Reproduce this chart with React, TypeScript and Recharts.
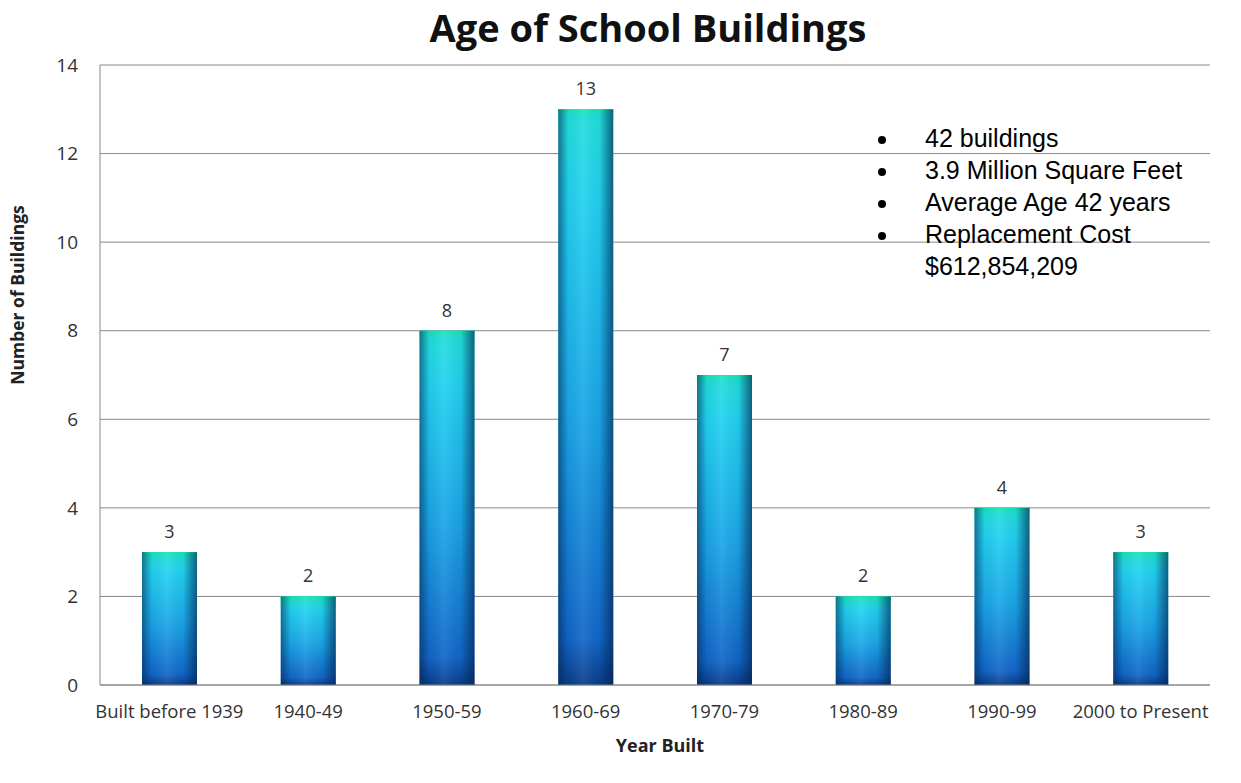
import React from "react";
import { BarChart, Bar, XAxis, YAxis, CartesianGrid, LabelList } from "recharts";

const categories = ["Built before 1939", "1940-49", "1950-59", "1960-69", "1970-79", "1980-89", "1990-99", "2000 to Present"];
const buildings = [3, 2, 8, 13, 7, 2, 4, 3];
const yTicks = [0, 2, 4, 6, 8, 10, 12, 14];
const notes = ["42 buildings", "3.9 Million Square Feet", "Average Age 42 years", "Replacement Cost"];
const noteExtra = "$612,854,209";

const data = categories.map((c, i) => ({ name: c, value: buildings[i] }));

const FONT = "'Open Sans', Lato, sans-serif";

const CylBar = (props: any) => {
  const { x, y, width, height } = props;
  if (height <= 0) return null;
  const cap = Math.min(12, height);
  return (
    <g>
      <rect x={x} y={y} width={width} height={height} fill="url(#vgrad)" />
      <rect x={x} y={y} width={width} height={cap} fill="url(#capgrad)" />
      <rect x={x} y={y} width={width} height={height} fill="url(#hgrad)" />
    </g>
  );
};

export default function App() {
  return (
    <div style={{ position: "absolute", left: 0, top: 0, width: 1241, height: 783, background: "#fff" }}>
      <BarChart
        width={1241}
        height={783}
        data={data}
        margin={{ top: 65, right: 31, bottom: 68, left: 40 }}
        barCategoryGap={0}
      >
        <defs>
          <linearGradient id="vgrad" x1="0" y1="0" x2="0" y2="1">
            <stop offset="0%" stopColor="#22e0d8" />
            <stop offset="15%" stopColor="#22d2f0" />
            <stop offset="55%" stopColor="#1aa4e6" />
            <stop offset="92%" stopColor="#1266c8" />
            <stop offset="100%" stopColor="#0a3c88" />
          </linearGradient>
          <linearGradient id="capgrad" x1="0" y1="0" x2="0" y2="1">
            <stop offset="0%" stopColor="#14e6b4" stopOpacity={1} />
            <stop offset="100%" stopColor="#22d8e0" stopOpacity={0.2} />
          </linearGradient>
          <linearGradient id="hgrad" x1="0" y1="0" x2="1" y2="0">
            <stop offset="0%" stopColor="#03204a" stopOpacity={0.55} />
            <stop offset="18%" stopColor="#03204a" stopOpacity={0.05} />
            <stop offset="45%" stopColor="#ffffff" stopOpacity={0.08} />
            <stop offset="75%" stopColor="#03204a" stopOpacity={0.05} />
            <stop offset="100%" stopColor="#03204a" stopOpacity={0.65} />
          </linearGradient>
        </defs>
        <CartesianGrid vertical={false} stroke="#888" strokeWidth={1} />
        <XAxis
          dataKey="name"
          tickLine={false}
          axisLine={{ stroke: "#888" }}
          tickSize={0}
          tickMargin={20}
          interval={0}
          tick={{ fill: "#333", fontSize: 18.5, fontFamily: FONT }}
        />
        <YAxis
          domain={[0, 14]}
          ticks={yTicks}
          width={60}
          tickLine={false}
          axisLine={{ stroke: "#888" }}
          tickSize={0}
          tickMargin={22}
          tick={{ fill: "#333", fontSize: 19, fontFamily: FONT }}
        />
        <Bar dataKey="value" barSize={55} isAnimationActive={false} shape={<CylBar />}>
          <LabelList dataKey="value" position="top" offset={14} fill="#333" fontSize={18} fontFamily={FONT} />
        </Bar>
        <text x={648} y={42} textAnchor="middle" fontFamily={FONT} fontWeight="bold" fontSize={38} fill="#111">
          Age of School Buildings
        </text>
        <text x={660} y={752} textAnchor="middle" fontFamily={FONT} fontWeight="bold" fontSize={18} fill="#222">
          Year Built
        </text>
        <text
          x={0}
          y={0}
          transform="translate(24,295) rotate(-90)"
          textAnchor="middle"
          fontFamily={FONT}
          fontWeight="bold"
          fontSize={17.5}
          fill="#222"
        >
          Number of Buildings
        </text>
        {notes.map((n, i) => (
          <g key={n}>
            <circle cx={882} cy={140 + i * 32} r={4} fill="#000" />
            <text x={925} y={147 + i * 32} fontFamily="'Liberation Sans', Arial, sans-serif" fontSize={25} fill="#000">
              {n}
            </text>
          </g>
        ))}
        <text x={925} y={147 + 4 * 32} fontFamily="'Liberation Sans', Arial, sans-serif" fontSize={25} fill="#000">
          {noteExtra}
        </text>
      </BarChart>
    </div>
  );
}
